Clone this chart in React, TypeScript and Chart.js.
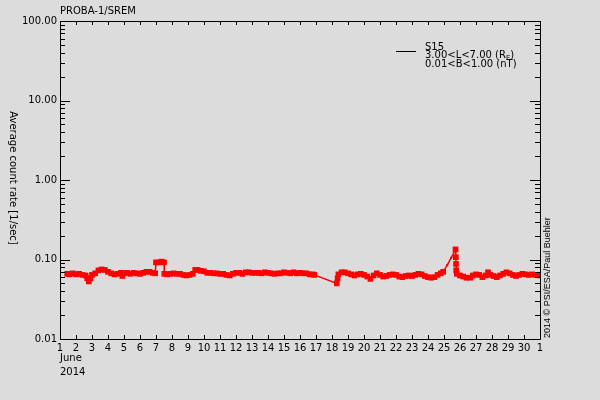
import React, { useEffect, useRef } from 'react';
import Chart from 'chart.js/auto';

// day of June 2014 (31 = 1 July) and average count rate [1/sec]
const days = [
  1.45, 1.6, 1.8, 2.0, 2.2, 2.4, 2.6, 2.7, 2.8, 2.9, 3.0, 3.2, 3.4, 3.6, 3.8, 4.0, 4.2, 4.4, 4.6, 4.8,
  4.9, 5.0, 5.2, 5.4, 5.6, 5.8, 6.0, 6.2, 6.4, 6.6, 6.8, 6.95, 7.0, 7.2, 7.35, 7.5, 7.52, 7.7, 7.9, 8.1,
  8.3, 8.5, 8.7, 8.9, 9.1, 9.3, 9.45, 9.6, 9.8, 10.0, 10.2, 10.4, 10.6, 10.8, 11.0, 11.2, 11.4, 11.6, 11.8, 12.0,
  12.2, 12.4, 12.6, 12.8, 13.0, 13.2, 13.4, 13.6, 13.8, 14.0, 14.2, 14.4, 14.6, 14.8, 15.0, 15.2, 15.4, 15.6, 15.8, 16.0,
  16.2, 16.4, 16.6, 16.8, 16.9, 18.3, 18.35, 18.4, 18.6, 18.8, 19.0, 19.2, 19.4, 19.6, 19.8, 20.0, 20.2, 20.4, 20.6, 20.8,
  21.0, 21.2, 21.4, 21.6, 21.8, 22.0, 22.2, 22.4, 22.6, 22.8, 23.0, 23.2, 23.4, 23.6, 23.8, 24.0, 24.2, 24.4, 24.6, 24.8,
  24.95, 25.2, 25.45, 25.72, 25.74, 25.75, 25.76, 25.8, 26.0, 26.2, 26.4, 26.65, 26.8, 27.0, 27.2, 27.4, 27.6, 27.75, 27.9, 28.1,
  28.3, 28.5, 28.7, 28.9, 29.1, 29.3, 29.5, 29.7, 29.9, 30.1, 30.3, 30.5, 30.7, 31.0,
];
const rates = [
  0.066, 0.065, 0.067, 0.065, 0.066, 0.064, 0.063, 0.058, 0.053, 0.058, 0.064, 0.067, 0.073, 0.075, 0.074, 0.070, 0.067, 0.065, 0.066, 0.068,
  0.062, 0.067, 0.068, 0.066, 0.068, 0.067, 0.066, 0.068, 0.070, 0.070, 0.068, 0.067, 0.092, 0.092, 0.094, 0.092, 0.066, 0.065, 0.066, 0.067,
  0.066, 0.066, 0.064, 0.063, 0.064, 0.066, 0.074, 0.074, 0.072, 0.071, 0.068, 0.068, 0.067, 0.067, 0.066, 0.066, 0.064, 0.063, 0.066, 0.068,
  0.068, 0.066, 0.069, 0.069, 0.068, 0.068, 0.068, 0.067, 0.069, 0.068, 0.067, 0.066, 0.067, 0.067, 0.069, 0.068, 0.067, 0.069, 0.067, 0.068,
  0.067, 0.067, 0.065, 0.065, 0.064, 0.050, 0.058, 0.065, 0.069, 0.069, 0.067, 0.065, 0.063, 0.065, 0.066, 0.064, 0.061, 0.057, 0.063, 0.067,
  0.064, 0.061, 0.062, 0.064, 0.065, 0.064, 0.061, 0.060, 0.062, 0.063, 0.062, 0.064, 0.066, 0.065, 0.062, 0.060, 0.059, 0.060, 0.064, 0.067,
  0.070, 0.085, 0.105, 0.134, 0.107, 0.088, 0.073, 0.066, 0.063, 0.061, 0.059, 0.059, 0.063, 0.065, 0.064, 0.060, 0.063, 0.069, 0.064, 0.062,
  0.060, 0.063, 0.066, 0.069, 0.067, 0.064, 0.062, 0.064, 0.066, 0.065, 0.064, 0.065, 0.064, 0.063,
];

const xTicks = Array.from({ length: 31 }, (_, i) => i + 1);
const xTickLabels = [
  '1', '2', '3', '4', '5', '6', '7', '8', '9', '10', '11', '12', '13', '14', '15', '16',
  '17', '18', '19', '20', '21', '22', '23', '24', '25', '26', '27', '28', '29', '30', '1',
];
const yTicks = [0.01, 0.1, 1, 10, 100];
const yTickLabels = ['0.01', '0.10', '1.00', '10.00', '100.00'];
const minorSteps = [2, 3, 4, 5, 6, 7, 8, 9];

const BG = '#dcdcdc';
const FONT = '"DejaVu Sans", sans-serif';

// points far from both neighbours are drawn small (sparse stretches of the record)
const pointSize = (ctx: any) => {
  const i = ctx.dataIndex;
  const prev = i > 0 ? days[i] - days[i - 1] : 0;
  const next = i < days.length - 1 ? days[i + 1] - days[i] : 0;
  return prev > 0.22 && next > 0.22 ? 1.5 : 4;
};

const framePlugin = {
  id: 'frame',
  beforeDraw(chart: any) {
    const { ctx, width, height } = chart;
    ctx.save();
    ctx.fillStyle = BG;
    ctx.fillRect(0, 0, width, height);
    ctx.restore();
  },
  afterDraw(chart: any) {
    const { ctx, chartArea } = chart;
    const { left, right, top, bottom } = chartArea;
    const xs = chart.scales.x;
    const ys = chart.scales.y;
    ctx.save();
    ctx.strokeStyle = '#000';
    ctx.lineWidth = 1;
    ctx.beginPath();
    ctx.rect(Math.round(left) + 0.5, Math.round(top) + 0.5, Math.round(right - left), Math.round(bottom - top));
    // x ticks, inward on top and bottom
    xTicks.forEach((d) => {
      const px = Math.round(xs.getPixelForValue(d)) + 0.5;
      ctx.moveTo(px, bottom);
      ctx.lineTo(px, bottom - 4);
      ctx.moveTo(px, top);
      ctx.lineTo(px, top + 4);
    });
    // y ticks, major and minor, inward on left and right
    yTicks.forEach((v, i) => {
      const py = Math.round(ys.getPixelForValue(v)) + 0.5;
      ctx.moveTo(left, py);
      ctx.lineTo(left + 10, py);
      ctx.moveTo(right, py);
      ctx.lineTo(right - 10, py);
      if (i < yTicks.length - 1) {
        minorSteps.forEach((m) => {
          const my = Math.round(ys.getPixelForValue(v * m)) + 0.5;
          ctx.moveTo(left, my);
          ctx.lineTo(left + 5, my);
          ctx.moveTo(right, my);
          ctx.lineTo(right - 5, my);
        });
      }
    });
    ctx.stroke();

    ctx.fillStyle = '#000';
    ctx.font = '10px ' + FONT;
    ctx.textAlign = 'left';
    ctx.textBaseline = 'alphabetic';
    ctx.fillText('PROBA-1/SREM', 60, 14);
    ctx.fillText('June', 60, 361);
    ctx.fillText('2014', 60, 375);

    // legend
    ctx.beginPath();
    ctx.moveTo(396, 51.5);
    ctx.lineTo(416, 51.5);
    ctx.stroke();
    ctx.fillText('S15', 425, 50);
    const l2 = '3.00<L<7.00 (R';
    ctx.fillText(l2, 425, 58);
    const w2 = ctx.measureText(l2).width;
    ctx.font = '7px ' + FONT;
    ctx.fillText('E', 425 + w2, 60);
    const we = ctx.measureText('E').width;
    ctx.font = '10px ' + FONT;
    ctx.fillText(')', 425 + w2 + we, 58);
    ctx.fillText('0.01<B<1.00 (nT)', 425, 67);

    // axis title
    ctx.save();
    ctx.translate(13, 178);
    ctx.rotate(Math.PI / 2);
    ctx.textAlign = 'center';
    ctx.textBaseline = 'middle';
    ctx.fillText('Average count rate [1/sec]', 0, 0);
    ctx.restore();

    // credit
    ctx.save();
    ctx.translate(548, 338);
    ctx.rotate(-Math.PI / 2);
    ctx.font = '9px "Liberation Sans", sans-serif';
    ctx.textAlign = 'left';
    ctx.textBaseline = 'middle';
    ctx.fillText('2014 \u00a9 PSI/ESA/Paul Buehler', 0, 0);
    ctx.restore();
    ctx.restore();
  },
};

const App: React.FC = () => {
  const chartRef = useRef<HTMLCanvasElement | null>(null);

  useEffect(() => {
    document.body.style.margin = '0';
    document.body.style.background = BG;
    const ctx = chartRef.current?.getContext('2d');
    if (!ctx) return;

    const chart = new Chart(ctx, {
      type: 'line',
      data: {
        datasets: [{
          label: 'S15',
          data: days.map((d, i) => ({ x: d, y: rates[i] })),
          borderColor: '#ff0000',
          borderWidth: 1.5,
          backgroundColor: '#ff0000',
          pointStyle: 'rect',
          pointRadius: pointSize,
          pointBorderWidth: 0,
          pointBackgroundColor: '#ff0000',
          tension: 0,
        }],
      },
      options: {
        animation: false,
        responsive: false,
        maintainAspectRatio: false,
        layout: { padding: { top: 21, right: 60, left: 0, bottom: 0 } },
        plugins: {
          legend: { display: false },
          tooltip: { enabled: false },
        },
        scales: {
          x: {
            type: 'linear',
            min: 1,
            max: 31,
            grid: { display: false, drawTicks: false },
            border: { display: false },
            afterBuildTicks: (scale: any) => {
              scale.ticks = xTicks.map((v) => ({ value: v }));
            },
            afterFit: (scale: any) => {
              scale.height = 61;
            },
            ticks: {
              autoSkip: false,
              maxRotation: 0,
              padding: 3,
              color: '#000',
              font: { family: FONT, size: 10 },
              callback: (_v: any, i: number) => xTickLabels[i],
            },
          },
          y: {
            type: 'logarithmic',
            min: 0.01,
            max: 100,
            grid: { display: false, drawTicks: false },
            border: { display: false },
            afterBuildTicks: (scale: any) => {
              scale.ticks = yTicks.map((v) => ({ value: v }));
            },
            afterFit: (scale: any) => {
              scale.width = 60;
            },
            ticks: {
              autoSkip: false,
              padding: 3,
              color: '#000',
              font: { family: FONT, size: 10 },
              callback: (_v: any, i: number) => yTickLabels[i],
            },
          },
        },
      },
      plugins: [framePlugin],
    });

    return () => {
      chart.destroy();
    };
  }, []);

  return (
    <div style={{ width: 600, height: 400, background: BG }}>
      <canvas ref={chartRef} width={600} height={400}></canvas>
    </div>
  );
};

export default App;
